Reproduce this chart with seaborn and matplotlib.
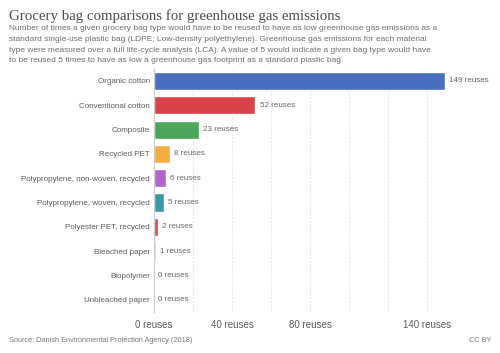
import matplotlib
matplotlib.use("Agg")
import matplotlib.pyplot as plt
import seaborn as sns
import pandas as pd

categories = ["Organic cotton", "Conventional cotton", "Composite", "Recycled PET",
              "Polypropylene, non-woven, recycled", "Polypropylene, woven, recycled",
              "Polyester PET, recycled", "Bleached paper", "Biopolymer", "Unbleached paper"]
values = [149, 52, 23, 8, 6, 5, 2, 1, 0, 0]
colors = ["#4a6fbe", "#d8434a", "#4aa55a", "#f4ae40", "#b063c8", "#3a9aa6",
          "#e0474a", "#a8d69e", "#999999", "#999999"]
tick_values = [0, 40, 80, 140]
tick_labels = ["0 reuses", "40 reuses", "80 reuses", "140 reuses"]
grid_values = [20, 60, 100, 120]

df = pd.DataFrame({"category": categories, "value": values})

sns.set_theme(style="white")
plt.rcParams["font.family"] = ["Liberation Sans", "DejaVu Sans"]

fig = plt.figure(figsize=(5, 3.53), dpi=100)
ax = fig.add_axes([0.308, 0.116, 0.632, 0.689])

sns.barplot(data=df, x="value", y="category", hue="category", palette=colors,
            orient="h", width=0.75, legend=False, ax=ax, saturation=1)

ax.set_xlim(0, (470 - 154) / 1.95)
ax.set_ylim(len(categories) - 0.5, -0.5)
ax.set_xticks(tick_values)
ax.set_xticklabels(tick_labels)
ax.set_xticks(grid_values, minor=True)
ax.grid(axis="x", which="both", color="#dddddd", linestyle=(0, (2, 2)), linewidth=0.6)
ax.set_axisbelow(True)
ax.tick_params(axis="x", which="both", length=0, labelsize=7, colors="#5b5b5b", pad=6)
ax.tick_params(axis="y", length=0, labelsize=5.8, colors="#5b5b5b", pad=3)
ax.set_xlabel("")
ax.set_ylabel("")
for s in ["top", "right", "bottom"]:
    ax.spines[s].set_visible(False)
ax.spines["left"].set_color("#cccccc")
ax.spines["left"].set_linewidth(0.8)

for i, v in enumerate(values):
    ax.text(v + 2.2, i, f"{v} reuses", va="center", ha="left", fontsize=5.8, color="#666666")

fig.text(9 / 500, 1 - 16 / 353, "Grocery bag comparisons for greenhouse gas emissions",
         family=["Liberation Serif", "DejaVu Serif"], fontsize=10.7, color="#4d4d4d", va="center")
subtitle = ("Number of times a given grocery bag type would have to be reused to have as low greenhouse gas emissions as a\n"
            "standard single-use plastic bag (LDPE; Low-density polyethylene). Greenhouse gas emissions for each material\n"
            "type were measured over a full life-cycle analysis (LCA). A value of 5 would indicate a given bag type would have\n"
            "to be reused 5 times to have as low a greenhouse gas footprint as a standard plastic bag.")
fig.text(9 / 500, 1 - 25 / 353, subtitle, fontsize=6.0, color="#6e6e6e", va="top", linespacing=1.75)
fig.text(9 / 500, 1 - 341 / 353, "Source: Danish Environmental Protection Agency (2018)",
         fontsize=5.3, color="#777777", va="center")
fig.text(491 / 500, 1 - 341 / 353, "CC BY", fontsize=5.3, color="#777777", va="center", ha="right")

fig.savefig("out.png", dpi=100, facecolor="white")
